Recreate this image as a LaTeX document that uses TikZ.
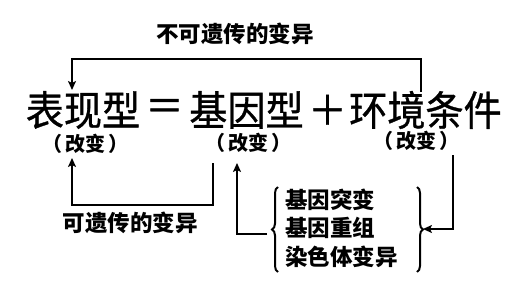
\documentclass[tikz,border=0pt]{standalone}
\usepackage{fontspec}
\newfontfamily\cjk{Noto Sans CJK SC}
\newfontfamily\cjkmain[FakeStretch=0.93,FakeBold=0.8]{Noto Sans CJK SC}
\usetikzlibrary{arrows.meta,decorations.pathreplacing}
\newcommand\gaibian{（\hspace{3pt}改变\hspace{3pt}）}
\begin{document}
\begin{tikzpicture}[x=1pt,y=-1pt,
  mainf/.style={font=\cjkmain\fontsize{41}{41}\selectfont, inner sep=0pt},
  lab/.style={font=\cjk\bfseries\fontsize{20}{20}\selectfont, inner sep=0pt},
  txt/.style={font=\cjk\bfseries\fontsize{22.5}{28.5}\selectfont, inner sep=0pt},
  arr/.style={line width=2.5pt, -{Stealth[length=9pt,width=8pt,inset=2pt]}},
  brc/.style={line width=2pt, decorate, decoration={brace, amplitude=6pt}}]
\useasboundingbox[fill=white] (0,0) rectangle (527,294);
% main equation
\node[mainf] (g1) at (83,110) {表现型};
\node[mainf] (eq) at (164.5,110) {＝};
\node[mainf] (g2) at (246.5,110) {基因型};
\node[mainf] (pl) at (327.5,110) {＋};
\node[mainf] (g3) at (425.5,110) {环境条件};
% labels
\node[lab] (c1) at (85,144) {\gaibian};
\node[lab] (c2) at (248,143) {\gaibian};
\node[lab] (c3) at (416,141) {\gaibian};
\node[txt] (nh) at (235,34) {不可遗传的变异};
\node[txt] (h) at (130,223) {可遗传的变异};
\node[txt, align=left, anchor=west] (lst) at (285,228) {基因突变\\基因重组\\染色体变异};
% braces
\coordinate (lb1) at (278,272);
\coordinate (lb2) at (278,187);
\coordinate (rb1) at (417,187);
\coordinate (rb2) at (417,272);
\draw[brc] (lb1) -- (lb2);
\draw[brc] (rb1) -- (rb2);
% arrows
\coordinate (ts) at (421,92);
\coordinate (te) at (72,90);
\draw[arr] (ts) -- ++(0,-33) -| (te);
\coordinate (bs) at (213,163);
\coordinate (be) at (72,158);
\draw[arr] (bs) |- ++(-70,42) -- ++(-71,0) -- (be);
\coordinate (ms) at (267,234);
\coordinate (me) at (237,163);
\draw[arr] (ms) -| (me);
\coordinate (rs) at (453,155);
\coordinate (re) at (423,229);
\draw[arr] (rs) |- (re);
\end{tikzpicture}
\end{document}
